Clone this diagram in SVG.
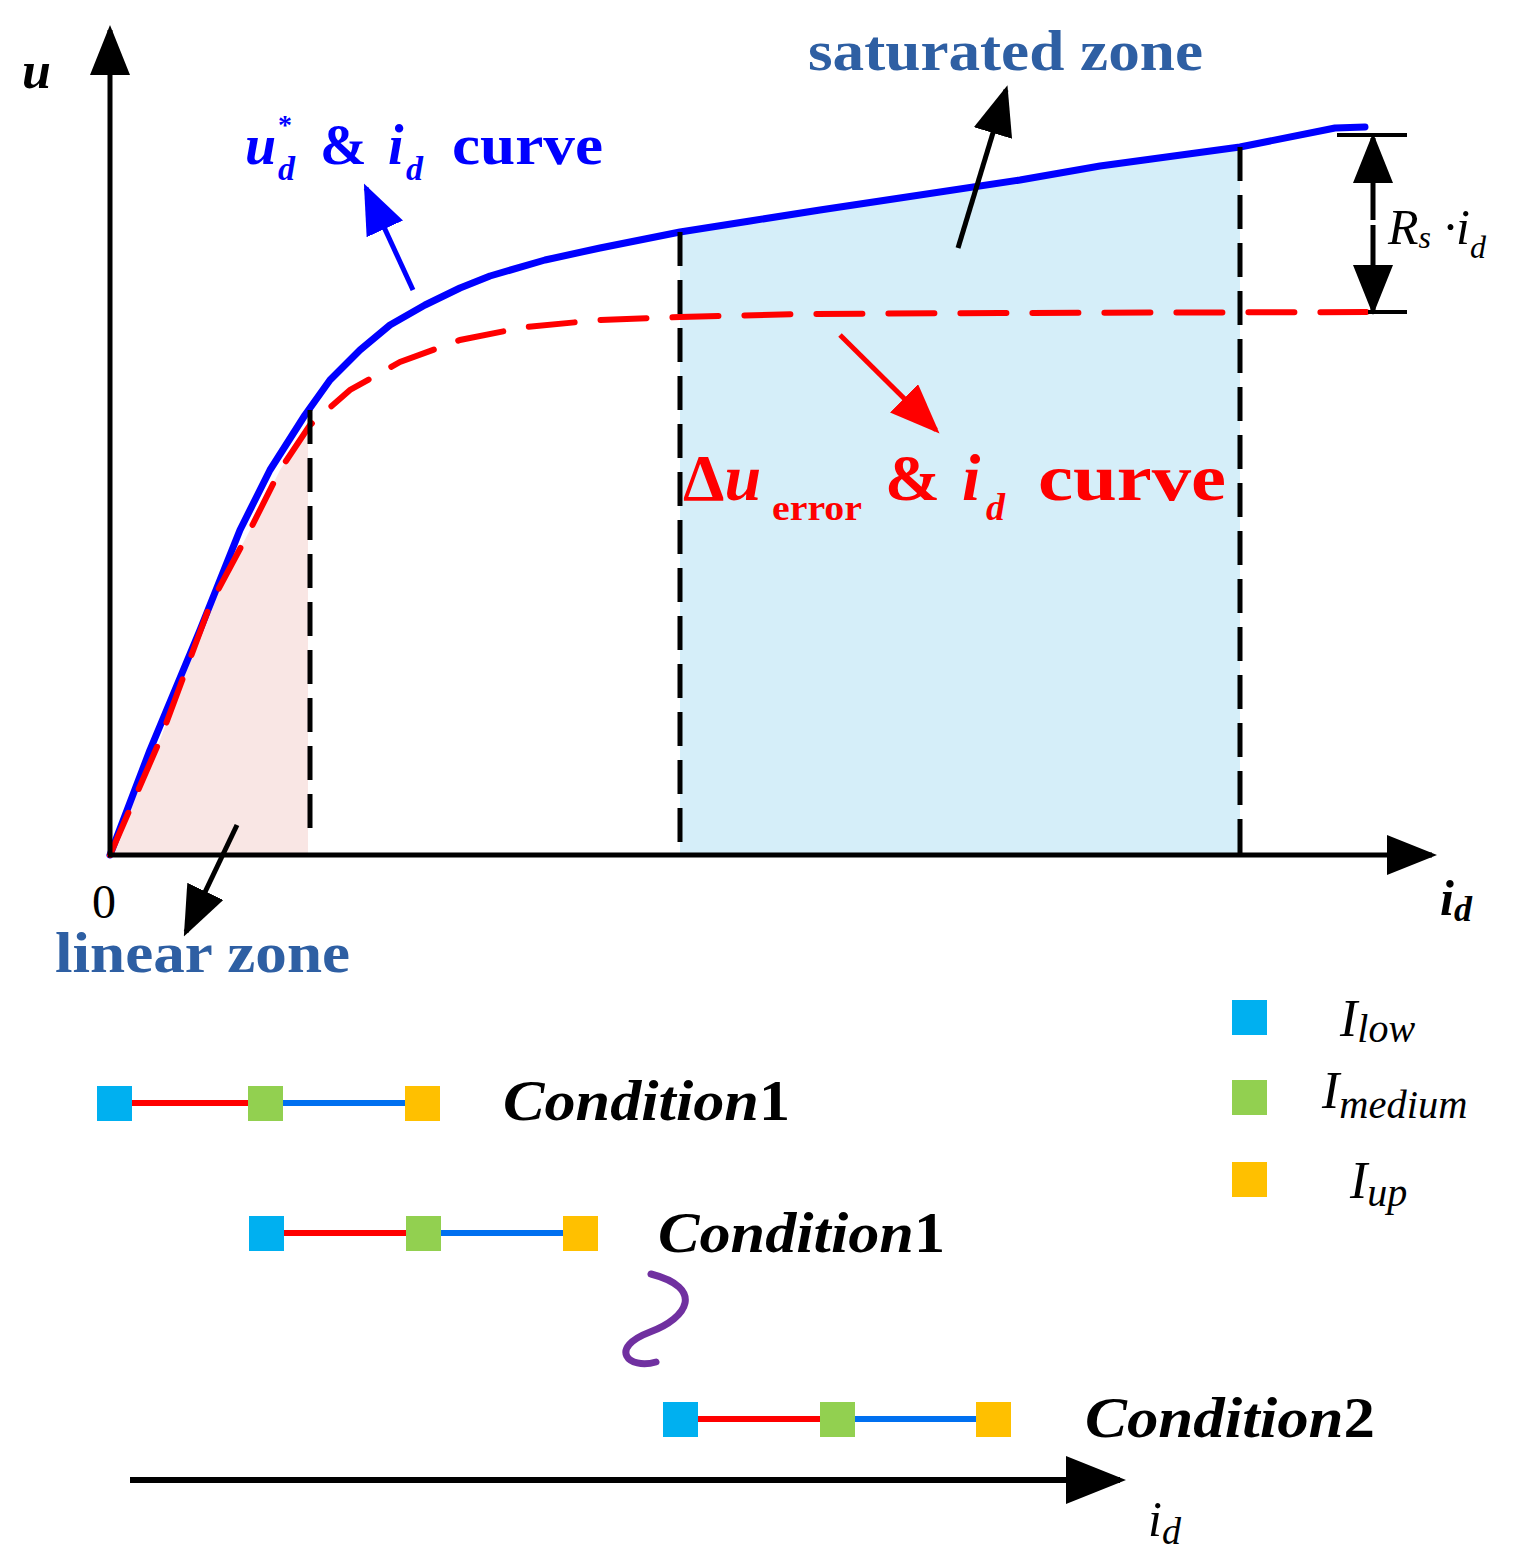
<svg xmlns="http://www.w3.org/2000/svg" width="1534" height="1564" viewBox="0 0 1534 1564">
<style>
.s{font-family:"Liberation Serif",serif}
.bi{font-family:"Liberation Serif",serif;font-weight:bold;font-style:italic}
.b{font-family:"Liberation Serif",serif;font-weight:bold}
.i{font-family:"Liberation Serif",serif;font-style:italic}
.dash{stroke:#000;stroke-width:5;stroke-dasharray:34,14;fill:none}
.c{fill:#00b0f0}.m{fill:#92d050}.y{fill:#ffc000}
</style>
<defs>
<marker id="ab" markerWidth="10" markerHeight="8" refX="9" refY="4" orient="auto" viewBox="0 0 10 8"><path d="M0,0L10,4L0,8z" fill="#0000ff"/></marker>
<marker id="ar" markerWidth="10" markerHeight="8" refX="9" refY="4" orient="auto" viewBox="0 0 10 8"><path d="M0,0L10,4L0,8z" fill="#ff0000"/></marker>
<marker id="ax" markerWidth="10" markerHeight="8" refX="9" refY="4" orient="auto" viewBox="0 0 10 8"><path d="M0,0L10,4L0,8z" fill="#000"/></marker>
</defs>
<rect width="1534" height="1564" fill="#fff"/>
<g id="fills">
<path d="M110,855 L160,740 L210,605 L250,530 L280,470 L308,428 L308,855 Z" fill="#f9e6e4"/>
<path d="M680,232 L750,221 L820,210 L900,198 L1020,180 L1100,166 L1240,147 L1240,855 L680,855 Z" fill="#d5eef9"/>
</g>
<g id="connectors">
<polyline points="110,855 150,750 200,630 240,530 270,470 305,415 330,380 360,350 390,325 425,305 460,288 490,276 545,260 600,248 680,232 750,221 820,210 900,198 1020,180 1100,166 1240,147 1335,128 1365,127" fill="none" stroke="#0000ff" stroke-width="7" stroke-linejoin="round" stroke-linecap="round"/>
<polyline points="110,855 160,740 210,605 250,530 280,470 310,425 350,390 400,362 460,340 525,327 600,320 680,317 800,314 1000,313 1370,312" fill="none" stroke="#ff0000" stroke-width="6" stroke-dasharray="46,26" stroke-linecap="round"/>
<line x1="310" y1="410" x2="310" y2="835" class="dash"/>
<line x1="680" y1="232" x2="680" y2="855" class="dash"/>
<line x1="1240" y1="147" x2="1240" y2="855" class="dash"/>
<line x1="110" y1="855" x2="110" y2="30" stroke="#000" stroke-width="5" marker-end="url(#ax)"/>
<line x1="108" y1="855" x2="1432" y2="855" stroke="#000" stroke-width="5" marker-end="url(#ax)"/>
<line x1="1337" y1="135" x2="1407" y2="135" stroke="#000" stroke-width="4"/>
<line x1="1368" y1="312" x2="1407" y2="312" stroke="#000" stroke-width="4"/>
<line x1="1373" y1="220" x2="1373" y2="138" stroke="#000" stroke-width="5" marker-end="url(#ax)"/>
<line x1="1373" y1="225" x2="1373" y2="310" stroke="#000" stroke-width="5" marker-end="url(#ax)"/>
<line x1="958" y1="248" x2="1006" y2="90" stroke="#000" stroke-width="5" marker-end="url(#ax)"/>
<line x1="237" y1="825" x2="186" y2="932" stroke="#000" stroke-width="5" marker-end="url(#ax)"/>
<line x1="413" y1="290" x2="366" y2="188" stroke="#0000ff" stroke-width="5" marker-end="url(#ab)"/>
<line x1="840" y1="335" x2="936" y2="430" stroke="#ff0000" stroke-width="5" marker-end="url(#ar)"/>
<line x1="130" y1="1480" x2="1120" y2="1480" stroke="#000" stroke-width="6" marker-end="url(#ax)"/>
<path d="M651,1274 C705,1288 688,1318 650,1332 C608,1348 628,1370 656,1362" fill="none" stroke="#7030a0" stroke-width="7" stroke-linecap="round"/>
</g>
<g id="labels">
<text x="22" y="88" class="bi" font-size="52">u</text>
<text x="92" y="918" class="s" font-size="48">0</text>
<text x="1440" y="915" class="bi" font-size="50">i<tspan font-size="36" dy="6">d</tspan></text>
<text x="808" y="70" class="b" font-size="56" fill="#2e5fa3" textLength="395" lengthAdjust="spacingAndGlyphs">saturated zone</text>
<text x="55" y="972" class="b" font-size="56" fill="#2e5fa3" textLength="295" lengthAdjust="spacingAndGlyphs">linear zone</text>
<text x="245" y="164" class="bi" font-size="56" fill="#0000ff">u</text>
<text x="278" y="134" class="b" font-size="28" fill="#0000ff">*</text>
<text x="278" y="180" class="bi" font-size="34" fill="#0000ff">d</text>
<text x="320" y="164" class="b" font-size="56" fill="#0000ff">&amp;</text>
<text x="388" y="164" class="bi" font-size="56" fill="#0000ff">i</text>
<text x="406" y="180" class="bi" font-size="34" fill="#0000ff">d</text>
<text x="452" y="164" class="b" font-size="56" fill="#0000ff" textLength="151" lengthAdjust="spacingAndGlyphs">curve</text>
<text x="683" y="500" class="b" font-size="66" fill="#ff0000">Δ<tspan class="bi">u</tspan></text>
<text x="772" y="520" class="b" font-size="36" fill="#ff0000" textLength="90" lengthAdjust="spacingAndGlyphs">error</text>
<text x="885" y="500" class="b" font-size="66" fill="#ff0000">&amp;</text>
<text x="962" y="500" class="bi" font-size="66" fill="#ff0000">i</text>
<text x="986" y="520" class="bi" font-size="38" fill="#ff0000">d</text>
<text x="1038" y="500" class="b" font-size="66" fill="#ff0000" textLength="188" lengthAdjust="spacingAndGlyphs">curve</text>
<text x="1388" y="244" class="i" font-size="50">R<tspan font-size="32" dy="4">s</tspan><tspan dy="-4"> ·</tspan>i<tspan font-size="32" dy="14">d</tspan></text>
</g>
<g id="legend">
<rect x="1232" y="1000" width="35" height="35" class="c"/>
<rect x="1232" y="1080" width="35" height="35" class="m"/>
<rect x="1232" y="1162" width="35" height="35" class="y"/>
<text x="1340" y="1036" class="i" font-size="52">I<tspan font-size="40" dy="6">low</tspan></text>
<text x="1322" y="1108" class="i" font-size="52">I<tspan font-size="40" dy="10" textLength="128" lengthAdjust="spacingAndGlyphs">medium</tspan></text>
<text x="1350" y="1198" class="i" font-size="52">I<tspan font-size="40" dy="8">up</tspan></text>
</g>
<g id="cond1a">
<line x1="130" y1="1103" x2="250" y2="1103" stroke="#ff0000" stroke-width="6"/>
<line x1="282" y1="1103" x2="407" y2="1103" stroke="#0070f0" stroke-width="6"/>
<rect x="97" y="1086" width="35" height="35" class="c"/><rect x="248" y="1086" width="35" height="35" class="m"/><rect x="405" y="1086" width="35" height="35" class="y"/>
<text x="503" y="1120" class="bi" font-size="58" textLength="287" lengthAdjust="spacingAndGlyphs">Condition<tspan font-style="normal">1</tspan></text>
</g>
<g id="cond1b">
<line x1="282" y1="1233" x2="408" y2="1233" stroke="#ff0000" stroke-width="6"/>
<line x1="440" y1="1233" x2="565" y2="1233" stroke="#0070f0" stroke-width="6"/>
<rect x="249" y="1216" width="35" height="35" class="c"/><rect x="406" y="1216" width="35" height="35" class="m"/><rect x="563" y="1216" width="35" height="35" class="y"/>
<text x="658" y="1252" class="bi" font-size="58" textLength="287" lengthAdjust="spacingAndGlyphs">Condition<tspan font-style="normal">1</tspan></text>
</g>
<g id="cond2">
<line x1="696" y1="1419" x2="822" y2="1419" stroke="#ff0000" stroke-width="6"/>
<line x1="854" y1="1419" x2="978" y2="1419" stroke="#0070f0" stroke-width="6"/>
<rect x="663" y="1402" width="35" height="35" class="c"/><rect x="820" y="1402" width="35" height="35" class="m"/><rect x="976" y="1402" width="35" height="35" class="y"/>
<text x="1085" y="1437" class="bi" font-size="58" textLength="290" lengthAdjust="spacingAndGlyphs">Condition<tspan font-style="normal">2</tspan></text>
</g>
<text x="1148" y="1536" class="i" font-size="50">i<tspan font-size="38" dy="8">d</tspan></text>
</svg>
